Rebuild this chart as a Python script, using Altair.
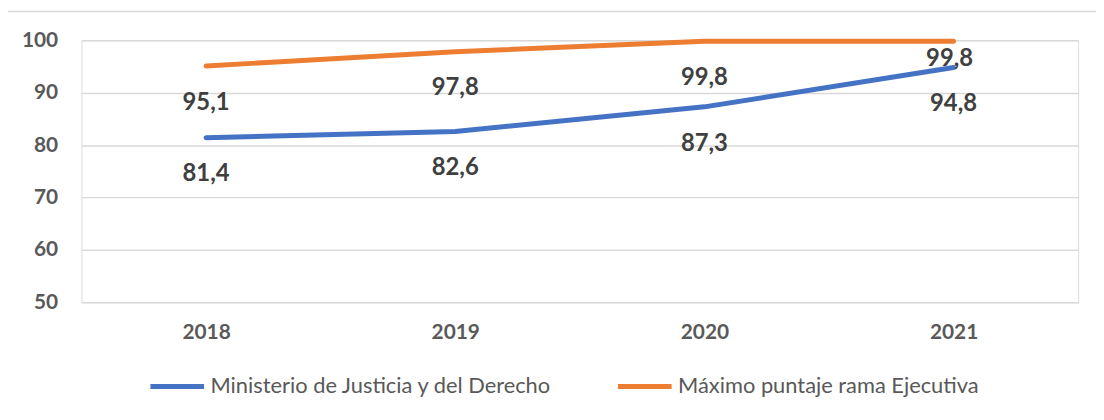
import altair as alt
import pandas as pd

years = ["2018", "2019", "2020", "2021"]
series_names = ["Ministerio de Justicia y del Derecho", "Máximo puntaje rama Ejecutiva"]
minjusticia = [81.4, 82.6, 87.3, 94.8]
maximo = [95.1, 97.8, 99.8, 99.8]
colors = ["#4472C4", "#ED7D31"]

rows = []
for i, y in enumerate(years):
    rows.append({"year": y, "series": series_names[0], "value": minjusticia[i],
                 "label": f"{minjusticia[i]:.1f}".replace(".", ",")})
    rows.append({"year": y, "series": series_names[1], "value": maximo[i],
                 "label": f"{maximo[i]:.1f}".replace(".", ",")})
df = pd.DataFrame(rows)

FONT = "Lato"

x = alt.X("year:O", title=None,
          scale=alt.Scale(type="point", padding=0.5),
          axis=alt.Axis(labelAngle=0, domain=False, ticks=False, labelPadding=19,
                        labelFontSize=21, labelFontWeight="bold", labelColor="#595959",
                        labelFont=FONT))
y = alt.Y("value:Q", title=None,
          scale=alt.Scale(domain=[50, 100], nice=False, zero=False),
          axis=alt.Axis(values=[50, 60, 70, 80, 90, 100], domain=False, ticks=False,
                        labelPadding=24, labelFontSize=21, labelFontWeight="bold",
                        labelColor="#595959", labelFont=FONT, gridColor="#D9D9D9",
                        gridWidth=1.5))

color = alt.Color("series:N", title=None,
                  scale=alt.Scale(domain=series_names, range=colors),
                  legend=alt.Legend(orient="none", legendX=67, legendY=319,
                                    direction="horizontal", symbolType="stroke",
                                    symbolSize=2916, symbolStrokeWidth=5,
                                    labelFontSize=22, labelColor="#595959",
                                    labelFont=FONT, labelOffset=4, columnPadding=55,
                                    labelLimit=600))

base = alt.Chart(df)

lines = base.mark_line(strokeWidth=5, strokeCap="round", strokeJoin="round").encode(
    x=x, y=y, color=color)

is_special = (alt.datum.year == "2021") & (alt.datum.series == series_names[1])

labels = base.transform_filter(~is_special).mark_text(
    dy=37, fontSize=24, fontWeight="bold", color="#404040", font=FONT
).encode(x=x, y=y, text="label:N")

labels_special = base.transform_filter(is_special).mark_text(
    dy=18, dx=-4, fontSize=24, fontWeight="bold", color="#404040", font=FONT
).encode(x=x, y=y, text="label:N")

frame = alt.Chart(pd.DataFrame({"a": [0]})).mark_rect(
    fill=None, stroke="#D9D9D9", strokeWidth=1.5
).encode(x=alt.value(-76), x2=alt.value(1030), y=alt.value(-29), y2=alt.value(500))

chart = alt.layer(frame, lines, labels, labels_special).properties(
    width=1004, height=264,
    autosize=alt.AutoSizeParams(type="none"),
    padding={"left": 74, "top": 31, "right": 18, "bottom": 117},
).configure_view(stroke=None).configure(background="white")

chart.save("out.html", embed_options={"renderer": "svg", "actions": False})
